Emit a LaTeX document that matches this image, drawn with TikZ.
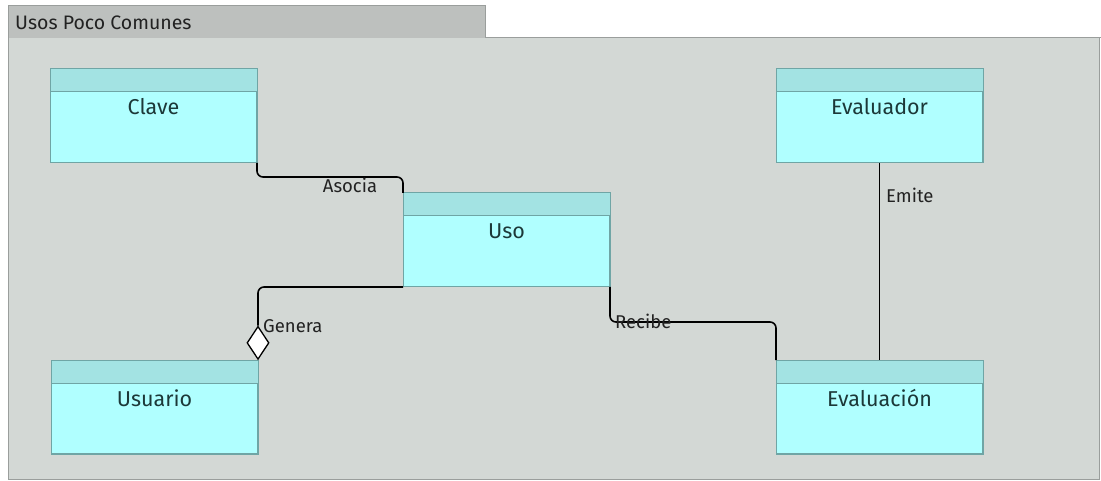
\documentclass[tikz,border=0pt]{standalone}
\usepackage{fontspec}
\setmainfont{Fira Sans}
\usetikzlibrary{shapes.geometric,calc}
\definecolor{panelbg}{HTML}{D3D8D5}
\definecolor{tabbg}{HTML}{BDC0BE}
\definecolor{frameline}{HTML}{9A9E9C}
\definecolor{hdr}{HTML}{A3E3E3}
\definecolor{body}{HTML}{B0FFFF}
\definecolor{clsline}{HTML}{6FA5A5}
\definecolor{nametext}{HTML}{1C3838}
\definecolor{labtext}{HTML}{222222}
\tikzset{
  cls/.style={draw=clsline, line width=1pt, fill=body, inner sep=0pt,
    minimum width=206pt, minimum height=93pt, anchor=north west},
  clsname/.style={anchor=base, text=nametext, font=\fontsize{21.5}{23}\selectfont, inner sep=0pt},
  conn/.style={draw=black, line width=1.6pt, rounded corners=6pt},
  lab/.style={anchor=base west, text=labtext, font=\fontsize{18.5}{20}\selectfont, inner sep=0pt},
  agg/.style={diamond, draw=black, fill=white, line width=1.3pt, inner sep=0pt,
    minimum width=22pt, minimum height=33pt, anchor=south},
}
\newcommand{\umlclass}[3]{%
  \node[cls] (#1) at (#2) {};
  \fill[hdr] ($(#1.north west)+(0.5pt,-0.5pt)$) rectangle ($(#1.north east)+(-0.5pt,-23pt)$);
  \draw[clsline, line width=1pt] ($(#1.north west)+(0,-23pt)$) -- ($(#1.north east)+(0,-23pt)$);
  \draw[clsline, line width=1pt] (#1.north west) rectangle (#1.south east);
  \node[clsname] (#1-name) at ($(#1.north)+(0,-46pt)$) {#3};
}
\begin{document}
\begin{tikzpicture}[x=1pt,y=-1pt]
\useasboundingbox (0,0) rectangle (1101,481);
\fill[white] (0,0) rectangle (1101,481);
% frame
\fill[panelbg] (8,38) rectangle (1099,479);
\draw[frameline, line width=1pt] (8,479) -- (8,38) -- (1101,38);
\draw[frameline, line width=1pt] (1099,38) -- (1099,479) -- (8,479);
\fill[tabbg] (8,6) rectangle (485,38);
\draw[frameline, line width=1pt] (8,38) -- (8,6) -- (485,6) -- (485,38);
\node[anchor=base west, inner sep=0pt, text=labtext, font=\fontsize{19.5}{21}\selectfont] (title) at (15,30) {Usos Poco Comunes};
% classes
\umlclass{clave}{50,69}{Clave}
\umlclass{uso}{403,193}{Uso}
\umlclass{evaluador}{776,69}{Evaluador}
\umlclass{usuario}{51,360}{Usuario}
\umlclass{evaluacion}{776,360}{Evaluación}
% connectors
\draw[conn] (clave.south east) -- ++(0,14) -| (uso.north west);
\node[lab, anchor=base] (asocia) at (350,193) {Asocia};
\node[agg] (gen) at (usuario.north east) {};
\draw[conn] (uso.south west) -| (gen.north);
\node[lab] (genera) at (263,332) {Genera};
\draw[conn] (uso.south east) -- ++(0,35) -| (evaluacion.north west);
\node[lab] (recibe) at (615,328) {Recibe};
\draw[black, line width=1.6pt] (evaluador.south) -- (evaluacion.north);
\node[lab] (emite) at (886,203) {Emite};
\end{tikzpicture}
\end{document}
